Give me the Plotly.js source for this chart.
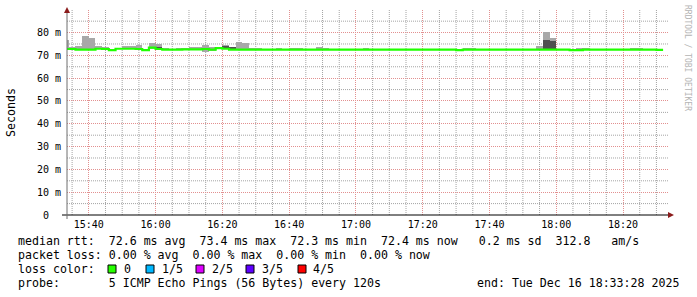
<!DOCTYPE html>
<html>
<head>
<meta charset="utf-8">
<script src="https://cdn.plot.ly/plotly-3.0.1.min.js"></script>
<style>html,body{margin:0;padding:0;background:#fff;}#chart{width:697px;height:297px;}</style>
</head>
<body>
<div id="chart"></div>
<script>
// ---- data (ms), one value per 120 s step, first step starts 15:32:00 ----
const stepStartFirst = '2025-12-16 15:32:00';
const stepSeconds = 120;
const rangeStart = '2025-12-16 15:33:28';
const rangeEnd = '2025-12-16 18:33:28';

const medianRtt = [
72.8,72.8,72.5,72.5,72.5,72.9,72.8,72.3,72.9,72.9,
72.9,72.8,72.3,73.4,72.8,72.5,72.5,72.5,72.6,72.6,
72.6,72.8,72.5,73.2,72.9,72.5,72.5,72.5,72.5,72.5,
72.5,72.5,72.5,72.5,72.5,72.5,72.5,72.5,72.5,72.5,
72.5,72.5,72.5,72.5,72.5,72.5,72.5,72.5,72.5,72.5,
72.5,72.5,72.5,72.5,72.5,72.5,72.5,72.5,72.5,72.3,
72.5,72.5,72.5,72.5,72.5,72.5,72.5,72.5,72.5,72.5,
72.5,72.5,72.5,72.5,72.5,72.5,72.3,72.3,72.5,72.5,
72.5,72.5,72.5,72.5,72.5,72.5,72.5,72.5,72.5,72.4];

const pingMax = [
76.6,73.7,74.3,78.4,77.8,74.3,73.6,72.9,73.4,74.0,
74.0,74.7,72.9,75.6,75.2,73.2,73.0,73.2,73.2,73.6,
73.6,74.4,73.8,73.7,74.4,73.6,75.7,75.3,73.2,73.2,
72.8,72.8,73.2,72.8,73.2,73.2,72.8,72.8,73.5,73.2,
72.8,72.8,72.8,72.8,72.8,73.2,72.8,72.8,72.8,72.8,
72.8,72.8,72.8,72.8,72.8,72.8,72.8,72.8,72.8,72.6,
73.2,73.2,72.8,72.8,72.8,72.8,72.8,72.8,72.8,72.8,
72.8,73.9,80.3,77.7,72.8,72.8,72.6,73.2,73.2,72.8,
72.8,72.8,72.8,72.8,72.8,73.2,73.2,72.8,72.8,72.7];

const pingHi = [
72.9,72.9,72.6,72.7,72.7,73.0,72.9,72.4,73.0,73.0,
73.0,72.9,72.4,73.6,73.8,72.6,72.6,72.6,72.7,72.7,
72.7,72.9,72.6,73.3,73.9,73.6,72.6,72.6,72.6,72.6,
72.6,72.6,72.6,72.6,72.6,72.6,72.6,72.6,72.6,72.6,
72.6,72.6,72.6,72.6,72.6,72.6,72.6,72.6,72.6,72.6,
72.6,72.6,72.6,72.6,72.6,72.6,72.6,72.6,72.6,72.4,
72.6,72.6,72.6,72.6,72.6,72.6,72.6,72.6,72.6,72.6,
72.6,72.6,76.9,76.2,72.6,72.6,72.4,72.4,72.6,72.6,
72.6,72.6,72.6,72.6,72.6,72.6,72.6,72.6,72.6,72.5];

const pingLo = [
72.7,72.7,72.4,72.4,72.4,72.8,72.7,72.2,72.8,72.8,
72.8,72.6,72.2,73.2,72.7,72.4,72.4,72.4,72.5,72.5,
72.5,72.6,72.4,73.1,72.8,72.4,72.4,72.4,72.4,72.4,
72.4,72.4,72.4,72.4,72.4,72.4,72.4,72.4,72.4,72.4,
72.4,72.4,72.4,72.4,72.4,72.4,72.4,72.4,72.4,72.4,
72.4,72.4,72.4,72.4,72.4,72.4,72.4,72.4,72.4,72.2,
72.4,72.4,72.4,72.4,72.4,72.4,72.4,72.4,72.4,72.4,
72.4,72.4,72.4,72.4,72.4,72.4,72.2,72.2,72.4,72.4,
72.4,72.4,72.4,72.4,72.4,72.4,72.4,72.4,72.4,72.3];

const pingMin = [
72.6,72.6,72.3,72.3,72.3,72.7,72.6,72.1,72.7,72.7,
72.7,72.6,72.1,73.0,72.6,72.3,72.3,72.3,72.4,72.4,
72.4,71.6,71.8,72.9,72.7,72.3,72.3,72.3,72.3,72.3,
72.3,72.3,72.3,72.3,72.3,72.3,72.3,72.3,72.3,72.3,
72.3,72.3,72.3,72.3,72.3,72.3,72.3,72.3,72.3,72.3,
72.3,72.3,72.3,72.3,72.3,72.3,72.3,72.3,72.3,72.1,
72.3,72.3,72.3,72.3,72.3,72.3,72.3,72.3,72.3,72.3,
72.3,72.3,72.3,72.3,72.3,72.3,72.1,72.1,72.3,72.3,
72.3,72.3,72.3,72.3,72.3,72.3,72.3,72.3,72.3,72.2];

const yTickVals = [0,10,20,30,40,50,60,70,80];
const yTickText = ['0  ','10 m','20 m','30 m','40 m','50 m','60 m','70 m','80 m'];
const yMinorTickVals = [5,15,25,35,45,55,65,75,85];

const legendLines = [
  'median rtt:  72.6 ms avg  73.4 ms max  72.3 ms min  72.4 ms now   0.2 ms sd  312.8   am/s',
  'packet loss: 0.00 % avg  0.00 % max  0.00 % min  0.00 % now',
  'loss color:',
  'probe:       5 ICMP Echo Pings (56 Bytes) every 120s'
];
const endText = 'end: Tue Dec 16 18:33:28 2025';
const lossLabels = ['0','1/5','2/5','3/5','4/5'];
const lossColors = ['#26ff00','#00b8ff','#dd00ff','#5e00ff','#ff0000'];

// ---- helpers ----
const nb = s => s.replace(/ /g,'\u00a0');
function toStr(ms){ return new Date(ms).toISOString().replace('T',' ').slice(0,19); }
const parse = s => Date.parse(s.replace(' ','T')+'Z');
const t0 = parse(stepStartFirst);
const stepMs = stepSeconds*1000;
const n = medianRtt.length;
const centers = [], edges = [];
for (let i=0;i<n;i++){ centers.push(toStr(t0+i*stepMs+stepMs/2)); edges.push(toStr(t0+i*stepMs)); }
edges.push(toStr(t0+n*stepMs));
const lineY = medianRtt.concat([medianRtt[n-1]]);

const majorTick0 = '2025-12-16 15:40:00', majorStep = 20*60*1000, minorStep = 5*60*1000;
const xMinorTickVals = [];
for (let t = parse(majorTick0) - majorStep; t <= parse(rangeEnd); t += minorStep) {
  if ((t - parse(majorTick0)) % majorStep !== 0 && t >= parse(rangeStart)) xMinorTickVals.push(toStr(t));
}

const L=67, R=668, T=10, B=215;
const px = x => (x-L)/(R-L);
const py = y => (B-y)/(B-T);

const traces = [
  {type:'bar', x:centers, base:pingMin, y:pingMax.map((v,i)=>v-pingMin[i]), width:stepMs,
   marker:{color:'#a8a8a8', line:{width:0}}, opacity:1, hoverinfo:'skip'},
  {type:'bar', x:centers, base:pingLo, y:pingHi.map((v,i)=>v-pingLo[i]), width:stepMs,
   marker:{color:'#505050', line:{width:0}}, opacity:1, hoverinfo:'skip'},
  {type:'scatter', mode:'lines', x:edges, y:lineY, line:{shape:'hv', color:'#20ff00', width:2.2}, hoverinfo:'skip'}
];

const majorGrid = '#e29090', minorGrid = '#a4a4a4', gdash = '1px,1px';
const mono = 'DejaVu Sans Mono';
const annotations = [];
const shapes = [];

// minor grid (5 min / 5 ms), drawn between grid and data
xMinorTickVals.forEach(t => shapes.push({type:'line', layer:'between', xref:'x', yref:'paper', x0:t, x1:t, y0:0, y1:1,
  line:{color:minorGrid, width:1, dash:gdash}}));
yMinorTickVals.forEach(v => shapes.push({type:'line', layer:'between', xref:'paper', yref:'y', x0:0, x1:1, y0:v, y1:v,
  line:{color:minorGrid, width:1, dash:gdash}}));

const rowsY = [241,255,269,283];
legendLines.forEach((t,i)=>{
  annotations.push({xref:'paper', yref:'paper', x:px(16), y:py(rowsY[i]), xanchor:'left', yanchor:'middle',
    text:nb(t), showarrow:false, font:{family:mono, size:11.6, color:'#000'}});
});
annotations.push({xref:'paper', yref:'paper', x:px(681), y:py(283), xanchor:'right', yanchor:'middle',
  text:nb(endText), showarrow:false, font:{family:mono, size:11.6, color:'#000'}});
const boxX = [108,146,196,246,298];
const labX = [122,160,210,260,311];
lossLabels.forEach((lab,i)=>{
  annotations.push({xref:'paper', yref:'paper', x:px(labX[i]), y:py(269), xanchor:'left', yanchor:'middle',
    text:lab, showarrow:false, font:{family:mono, size:11.6, color:'#000'}});
  shapes.push({type:'rect', xref:'paper', yref:'paper', x0:px(boxX[i]), x1:px(boxX[i]+8), y0:py(273), y1:py(265),
    fillcolor:lossColors[i], line:{color:'#000', width:1}});
});
annotations.push({xref:'paper', yref:'paper', x:px(11), y:py(113), xanchor:'center', yanchor:'middle', textangle:-90,
  text:'Seconds', showarrow:false, font:{family:mono, size:11.6, color:'#000'}});
annotations.push({xref:'paper', yref:'paper', x:px(688), y:py(58), xanchor:'center', yanchor:'middle', textangle:90,
  text:nb('RRDTOOL / TOBI OETIKER'), showarrow:false, font:{family:mono, size:8, color:'#b4b4b4'}});

// axis lines and arrows
shapes.push({type:'line', xref:'paper', yref:'paper', x0:px(62), x1:px(670), y0:0, y1:0, line:{color:'#000', width:1}});
shapes.push({type:'line', xref:'paper', yref:'paper', x0:0, x1:0, y0:py(219), y1:py(9), line:{color:'#6e6e6e', width:1}});
shapes.push({type:'path', xref:'paper', yref:'paper', xsizemode:'pixel', ysizemode:'pixel', xanchor:0, yanchor:py(10),
  path:'M -3,-3 L 3,-3 L 0,3 Z', fillcolor:'#8b1c1c', line:{width:0}});
shapes.push({type:'path', xref:'paper', yref:'paper', xsizemode:'pixel', ysizemode:'pixel', xanchor:px(668), yanchor:0,
  path:'M 0,-3 L 0,3 L 6,0 Z', fillcolor:'#8b1c1c', line:{width:0}});

const layout = {
  width:697, height:297, autosize:false,
  margin:{l:L, r:697-R, t:T, b:297-B, pad:0},
  paper_bgcolor:'#fff', plot_bgcolor:'#fff',
  showlegend:false, barmode:'overlay', bargap:0,
  font:{family:mono, size:10, color:'#000'},
  xaxis:{type:'date', range:[rangeStart, rangeEnd], tick0:majorTick0, dtick:majorStep,
    tickformat:'%H:%M', ticks:'', showline:false, zeroline:false,
    showgrid:true, gridcolor:majorGrid, griddash:gdash, gridwidth:1,
    tickfont:{family:mono, size:10, color:'#000'}, ticklabelstandoff:2, fixedrange:true},
  yaxis:{range:[0,89.9], tickmode:'array', tickvals:yTickVals, ticktext:yTickText.map(nb), ticks:'',
    showline:false, zeroline:false, showgrid:true, gridcolor:majorGrid, griddash:gdash, gridwidth:1,
    tickfont:{family:mono, size:10, color:'#000'}, ticklabelstandoff:5, fixedrange:true},
  annotations, shapes
};
Plotly.newPlot('chart', traces, layout, {staticPlot:true, displayModeBar:false});
</script>
</body>
</html>
